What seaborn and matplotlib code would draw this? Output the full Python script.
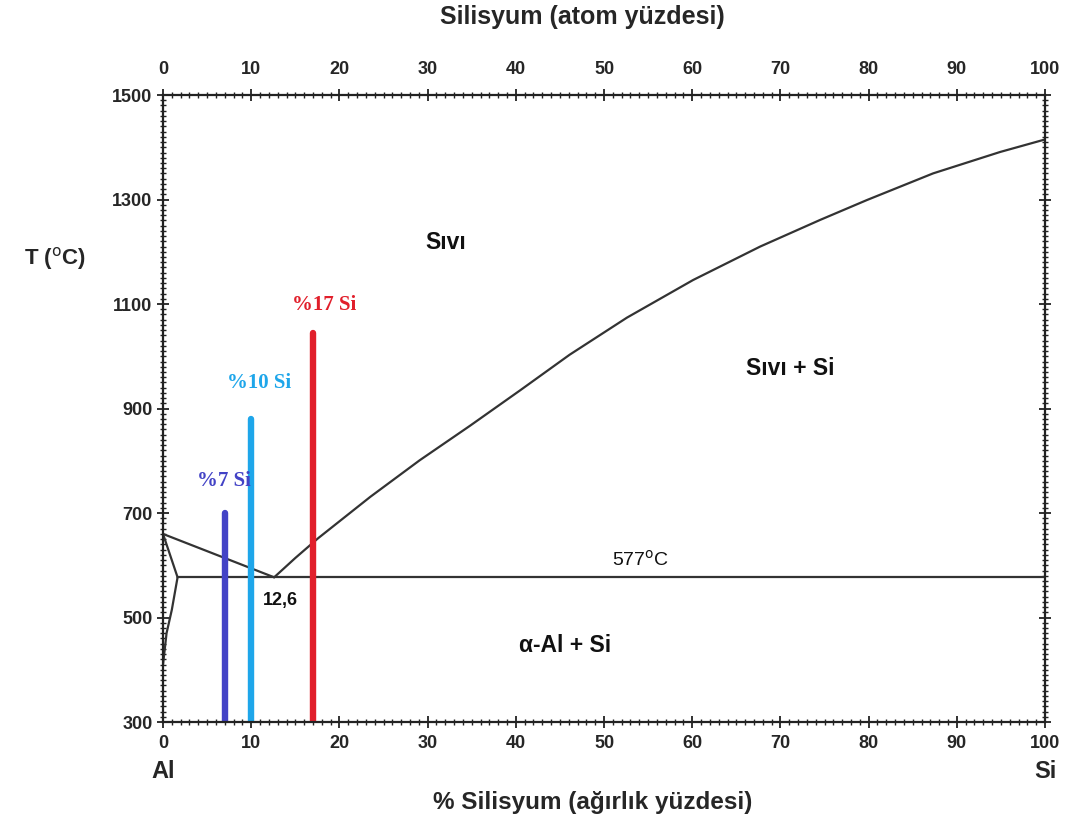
import matplotlib
matplotlib.use("Agg")
import matplotlib.pyplot as plt
from matplotlib.ticker import MultipleLocator
import seaborn as sns

sns.set_style("white")
plt.rcParams["font.family"] = ["Liberation Sans Narrow", "Liberation Sans", "DejaVu Sans"]

# Phase boundaries of the Al-Si system (wt.% Si, deg C)
liquidus_al_x = [0.0, 12.6]
liquidus_al_t = [660, 577]
liquidus_si_x = [12.6, 15.0, 17.6, 23.5, 29.1, 34.8, 40.5, 46.1, 52.6, 60.1, 67.7, 74.5, 79.8, 87.3, 94.9, 100.0]
liquidus_si_t = [577, 614, 652, 731, 801, 867, 935, 1003, 1074, 1146, 1210, 1261, 1299, 1350, 1391, 1415]
solidus_x = [0.0, 1.65]
solidus_t = [660, 577]
solvus_x = [0.0, 0.4, 1.0, 1.65]
solvus_t = [410, 470, 515, 577]
eutectic_x = [1.65, 100.0]
eutectic_t = [577, 577]

# Alloy compositions marked on the diagram
alloy_si = [7, 10, 17]
alloy_top_t = [700, 880, 1045]
alloy_labels = ["%7 Si", "%10 Si", "%17 Si"]
alloy_colors = ["#4343c6", "#1ea6ea", "#e11f2b"]

x_ticks = [0, 10, 20, 30, 40, 50, 60, 70, 80, 90, 100]
y_ticks = [300, 500, 700, 900, 1100, 1300, 1500]

fig = plt.figure(figsize=(10.69, 8.25), dpi=100)
ax = fig.add_axes([0.1525, 0.1248, 0.8251, 0.76])

line_kw = dict(color="#333333", linewidth=1.6, estimator=None, sort=False, ax=ax)
sns.lineplot(x=liquidus_al_x, y=liquidus_al_t, **line_kw)
sns.lineplot(x=liquidus_si_x, y=liquidus_si_t, **line_kw)
sns.lineplot(x=solidus_x, y=solidus_t, **line_kw)
sns.lineplot(x=solvus_x, y=solvus_t, **line_kw)
sns.lineplot(x=eutectic_x, y=eutectic_t, **line_kw)

label_pos = [(6.9, 761), (10.9, 949), (18.3, 1098)]
for si, top, lab, col, (lx, ly) in zip(alloy_si, alloy_top_t, alloy_labels, alloy_colors, label_pos):
    sns.lineplot(x=[si, si], y=[300, top], color=col, linewidth=4.6, estimator=None,
                 sort=False, ax=ax, solid_capstyle="round")
    ax.text(lx, ly, lab, color=col, fontsize=15, fontweight="bold",
            family=["Liberation Serif", "DejaVu Serif"], ha="center", va="center")

ax.set_xlim(0, 100)
ax.set_ylim(300, 1500)
ax.set_xticks(x_ticks)
ax.set_yticks(y_ticks)
ax.xaxis.set_minor_locator(MultipleLocator(1))
ax.yaxis.set_minor_locator(MultipleLocator(10))
ax.tick_params(which="both", left=True, bottom=True, top=True, right=True,
               direction="inout", color="#222222", labelsize=13)
ax.tick_params(axis="x", pad=5)
ax.tick_params(axis="y", pad=3)
ax.tick_params(which="major", length=9, width=1.3)
ax.tick_params(which="minor", length=4, width=1.0)
for lab in ax.get_xticklabels() + ax.get_yticklabels():
    lab.set_fontweight("bold")
for side in ax.spines.values():
    side.set_color("#222222")
    side.set_linewidth(1.6)

# Atomic-percent scale along the top edge
top_ax = ax.secondary_xaxis("top")
top_ax.set_xticks(x_ticks)
top_ax.tick_params(length=0, pad=12, labelsize=13)
top_ax.spines["top"].set_visible(False)
for lab in top_ax.get_xticklabels():
    lab.set_fontweight("bold")

fig.text(582 / 1069, 1 - 17 / 825, "Silisyum (atom yüzdesi)", fontsize=18,
         fontweight="bold", ha="center", va="center")
fig.text(593 / 1069, 1 - 803 / 825, "% Silisyum (ağırlık yüzdesi)", fontsize=17.5,
         fontweight="bold", ha="center", va="center")

region_kw = dict(fontsize=16.5, fontweight="bold", ha="center", va="center",
                 family=["Liberation Sans", "DejaVu Sans"], color="#111111")
ax.text(32.0, 1217, "Sıvı", **region_kw)
ax.text(71.1, 977, "Sıvı + Si", **region_kw)
ax.text(45.6, 447, "α-Al + Si", **region_kw)
ax.text(13.3, 532, "12,6", fontsize=13, fontweight="bold", ha="center", va="center",
        family=["Liberation Sans", "DejaVu Sans"], color="#111111")
ax.text(54.1, 611, "577$^{\\mathrm{o}}$C", fontsize=14, ha="center", va="center",
        family=["Liberation Sans", "DejaVu Sans"], color="#111111")

fig.text(55 / 1069, 1 - 258 / 825, "T ($^{\\mathrm{o}}$C)", fontsize=16, fontweight="bold",
         ha="center", va="center", family=["Liberation Sans", "DejaVu Sans"])
fig.text(163 / 1069, 1 - 772 / 825, "Al", fontsize=17, fontweight="bold",
         ha="center", va="center")
fig.text(1045 / 1069, 1 - 772 / 825, "Si", fontsize=17, fontweight="bold",
         ha="center", va="center")

fig.savefig("out.png", dpi=100, facecolor="white")
